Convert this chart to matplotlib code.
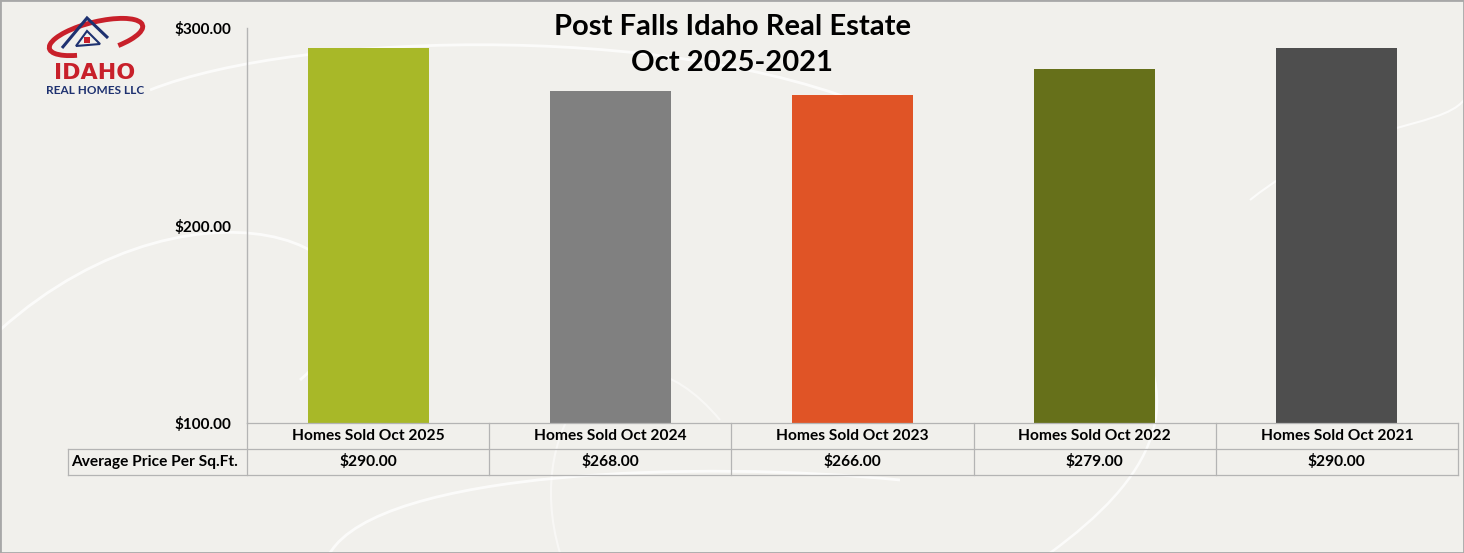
import matplotlib
matplotlib.use("Agg")
import matplotlib.pyplot as plt
from matplotlib.patches import Rectangle, Polygon, PathPatch, Arc
from matplotlib.path import Path
import matplotlib.transforms as mtransforms

categories = ["Homes Sold Oct 2025", "Homes Sold Oct 2024", "Homes Sold Oct 2023",
              "Homes Sold Oct 2022", "Homes Sold Oct 2021"]
values = [290.0, 268.0, 266.0, 279.0, 290.0]
bar_colors = ["#a8b828", "#808080", "#e05426", "#66701a", "#4e4e4e"]
row_label = "Average Price Per Sq.Ft."
y_ticks = [100, 200, 300]
title_lines = ["Post Falls Idaho Real Estate", "Oct 2025-2021"]

BG = "#f1f0ec"
GRID = "#b4b4b4"
FONT = "Lato"

W, H = 1464, 553
fig = plt.figure(figsize=(W / 100, H / 100), dpi=100, facecolor=BG)

# background layer for faint decorative swirls (behind everything)
bg = fig.add_axes([0, 0, 1, 1], zorder=-5)
bg.set_xlim(0, W)
bg.set_ylim(H, 0)
bg.axis("off")

def curve(pts, lw=2.0, alpha=0.75):
    codes = [Path.MOVETO] + [Path.CURVE4] * (len(pts) - 1)
    bg.add_patch(PathPatch(Path(pts, codes), facecolor="none", edgecolor="white",
                           lw=lw, alpha=alpha))

curve([(150, 90), (300, 30), (700, 20), (900, 120)])
curve([(0, 330), (200, 150), (450, 250), (300, 380)])
curve([(330, 553), (380, 470), (700, 460), (900, 480)])
curve([(1050, 553), (1150, 480), (1200, 400), (1110, 300)], lw=1.8)
curve([(1250, 200), (1350, 120), (1440, 130), (1464, 100)], lw=1.5)
curve([(560, 553), (520, 420), (620, 300), (720, 420)], lw=1.5, alpha=0.5)

# main axes
left, right = 247 / W, 1458 / W
bottom, top = 1 - 423 / H, 1 - 28 / H
ax = fig.add_axes([left, bottom, right - left, top - bottom])
ax.set_facecolor("none")

x = list(range(len(categories)))
ax.bar(x, values, width=0.5, color=bar_colors, zorder=2)
ax.set_xlim(-0.5, len(categories) - 0.5)
ax.set_ylim(100, 300)
ax.set_yticks(y_ticks)
ax.set_yticklabels([f"${v:.2f}" for v in y_ticks], fontsize=11,
                   fontweight="bold", family=FONT)
ax.tick_params(axis="y", length=0, pad=11)
ax.set_xticks([])
for s in ["top", "right", "bottom"]:
    ax.spines[s].set_visible(False)
ax.spines["left"].set_color(GRID)
ax.spines["left"].set_linewidth(1.0)

# data table below the axis (x in data coords, y in axes coords)
trans = mtransforms.blended_transform_factory(ax.transData, ax.transAxes)
rh = 26 / 395
label_x0 = -0.5 - (247 - 68) / (1211 / len(categories))
x0, x1 = -0.5, len(categories) - 0.5
lw = 0.9
def hline(y, xa, xb):
    ax.plot([xa, xb], [y, y], transform=trans, color=GRID, lw=lw, clip_on=False)
def vline(xv, ya, yb):
    ax.plot([xv, xv], [ya, yb], transform=trans, color=GRID, lw=lw, clip_on=False)

hline(0, x0, x1)
hline(-rh, label_x0, x1)
hline(-2 * rh, label_x0, x1)
vline(label_x0, -rh, -2 * rh)
for i in range(len(categories) + 1):
    vline(x0 + i, 0, -2 * rh)

for i, (c, v) in enumerate(zip(categories, values)):
    ax.text(i, -rh / 2, c, transform=trans, ha="center", va="center",
            fontsize=11.2, fontweight="bold", family=FONT)
    ax.text(i, -1.5 * rh, f"${v:.2f}", transform=trans, ha="center", va="center",
            fontsize=11.2, fontweight="bold", family=FONT)
ax.text(label_x0 + 0.012, -1.5 * rh, row_label, transform=trans, ha="left",
        va="center", fontsize=11.2, fontweight="bold", family=FONT)

# title
fig.text(0.5, 1 - 27 / H, title_lines[0], ha="center", va="center",
         fontsize=21, fontweight="bold", family=FONT)
fig.text(0.5, 1 - 63 / H, title_lines[1], ha="center", va="center",
         fontsize=21, fontweight="bold", family=FONT)

# logo
bg.add_patch(Arc((96, 37), 96, 30, angle=-14, theta1=150, theta2=395,
                 edgecolor="#c8202a", lw=3.5))
bg.add_patch(Polygon([(62, 48), (87, 18), (108, 38)], closed=False,
                     facecolor="none", edgecolor="#1e3170", lw=2.2))
bg.add_patch(Polygon([(76, 46), (87, 31), (100, 44)], closed=True,
                     facecolor="#f1f0ec", edgecolor="#1e3170", lw=1.5))
bg.add_patch(Rectangle((84, 37), 6, 6, facecolor="#c8202a"))
bg.text(95, 73, "IDAHO", ha="center", va="center", fontsize=16,
        fontweight="bold", color="#c8202a", family="DejaVu Sans")
bg.text(95, 90, "REAL HOMES LLC", ha="center", va="center",
        fontsize=8.5, fontweight="bold", color="#1e3170", family=FONT)

# figure border
fig.patches.append(Rectangle((0, 0), 1, 1, transform=fig.transFigure,
                             facecolor="none", edgecolor="#a8a8a8", lw=2, zorder=5))

fig.savefig("out.png", dpi=100, facecolor=BG)
